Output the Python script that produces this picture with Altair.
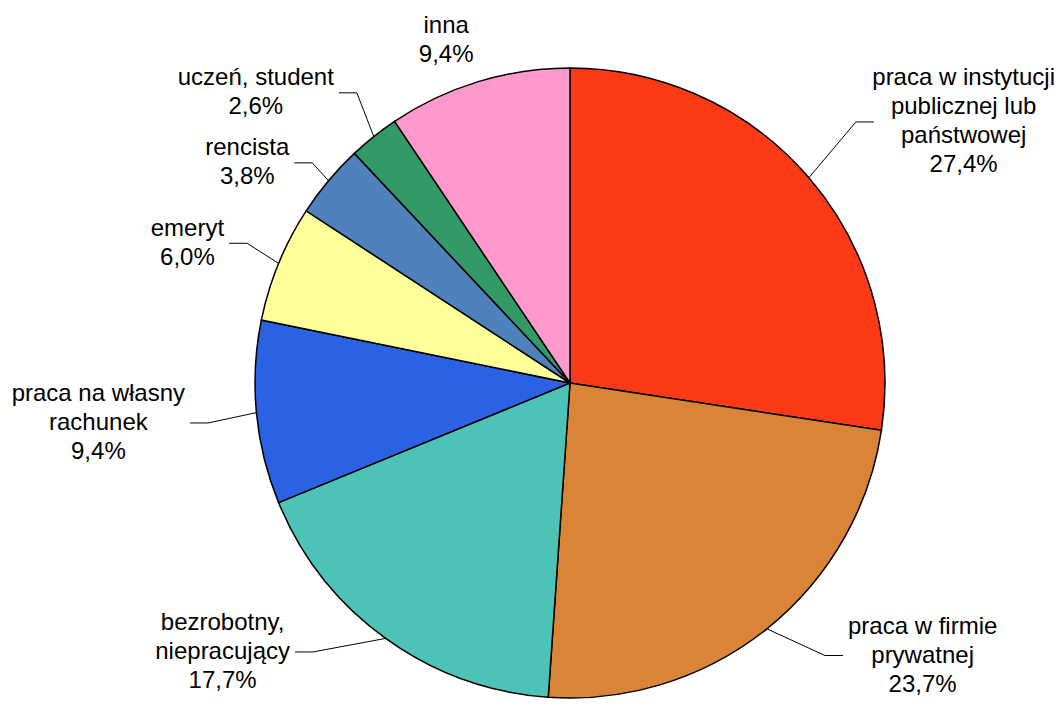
import math
import altair as alt
import pandas as pd

# ---------------- data ----------------
categories = [
    "praca w instytucji\npublicznej lub\npaństwowej",
    "praca w firmie\nprywatnej",
    "bezrobotny,\nniepracujący",
    "praca na własny\nrachunek",
    "emeryt",
    "rencista",
    "uczeń, student",
    "inna",
]
shares = [27.4, 23.7, 17.7, 9.4, 6.0, 3.8, 2.6, 9.4]
colors = ["#FC3A15", "#D98436", "#4CC3B6", "#2A62E3", "#FFFF99", "#4F81BD", "#339966", "#FF99CC"]

# ---------------- layout ----------------
W, H = 1048, 692
CX, CY, R = 562, 375, 315
label_angle = [47.6, 138.1, 223.7, 263.7, 293.4, 310.5, 323.7, 340.1]   # degrees, clockwise from 12 o'clock
label_radius = [1.229, 1.212, 1.181, 1.156, 1.117, 1.076, 1.143, 1.155]  # relative to R
has_leader = [True, True, True, True, True, True, True, False]
FONT = "Liberation Sans"
FONT_SIZE = 24
LINE_H = 29
TICK = 18
GAP = 5

# Arial / Liberation Sans advance widths (per 1000 em)
AW = {
    "a": 556, "b": 556, "c": 500, "d": 556, "e": 556, "f": 278, "h": 556, "i": 222,
    "j": 222, "k": 500, "l": 222, "m": 833, "n": 556, "o": 556, "p": 556, "r": 333,
    "s": 500, "t": 278, "u": 556, "w": 722, "y": 500, "z": 500, "ł": 222, "ń": 556,
    "ą": 556, " ": 278, ",": 278, "%": 889,
}


def text_width(s):
    return sum(AW.get(ch, 556) for ch in s) * FONT_SIZE / 1000.0


def polar(angle_deg, radius):
    a = math.radians(angle_deg)
    return CX + radius * math.sin(a), CY - radius * math.cos(a)


def fmt_pct(v):
    return f"{v:.1f}".replace(".", ",") + "%"


pie_df = pd.DataFrame({"cat": categories, "share": shares, "idx": list(range(len(categories)))})

total = sum(shares)
segs = []
texts = []
cum = 0.0
half_line = LINE_H / 2.0 + 1
for i, (cat, v) in enumerate(zip(categories, shares)):
    mid = (cum + v / 2) / total * 360.0
    cum += v
    label = cat + "\n" + fmt_pct(v)
    lines = label.split("\n")
    n = len(lines)
    block_w = max(text_width(line) for line in lines)
    ex, ey = polar(label_angle[i], label_radius[i] * R)
    # keep the whole text block inside the drawing area (vertical)
    block_h = (n - 1) * LINE_H
    ey = min(max(ey, half_line + block_h / 2), H - half_line - block_h / 2)
    # Vega anchors the first line at y; shift so the block is centred on ey
    ty = ey - block_h / 2.0
    if has_leader[i]:
        sx, sy = polar(mid, R)
        side = 1 if ex > CX else -1
        tx = ex + side * TICK
        segs.append({"x": sx, "y": sy, "x2": ex, "y2": ey})
        segs.append({"x": ex, "y": ey, "x2": tx, "y2": ey})
        x_text = tx + side * (GAP + block_w / 2)
    else:
        x_text = ex
    # keep the whole text block inside the drawing area (horizontal)
    x_text = min(max(x_text, block_w / 2 + 1), W - block_w / 2 - 1)
    texts.append({"x": x_text, "y": ty, "label": label})

seg_df = pd.DataFrame(segs)
txt_df = pd.DataFrame(texts)

xs = alt.Scale(domain=[0, W], range=[0, W], nice=False, zero=False)
ys = alt.Scale(domain=[0, H], range=[0, H], nice=False, zero=False)

pie = alt.Chart(pie_df).mark_arc(outerRadius=R, stroke="black", strokeWidth=1.5).encode(
    theta=alt.Theta("share:Q", stack=True),
    color=alt.Color("cat:N", scale=alt.Scale(domain=categories, range=colors), legend=None),
    order=alt.Order("idx:Q"),
    x=alt.value(CX),
    y=alt.value(CY),
)

leaders = alt.Chart(seg_df).mark_rule(color="black", strokeWidth=1).encode(
    x=alt.X("x:Q", scale=xs, axis=None),
    y=alt.Y("y:Q", scale=ys, axis=None),
    x2="x2:Q",
    y2="y2:Q",
)

labels = alt.Chart(txt_df).mark_text(
    font=FONT, fontSize=FONT_SIZE, lineBreak="\n", lineHeight=LINE_H,
    align="center", baseline="middle", color="black",
).encode(
    x=alt.X("x:Q", scale=xs, axis=None),
    y=alt.Y("y:Q", scale=ys, axis=None),
    text="label:N",
)

chart = alt.layer(pie, leaders, labels).properties(
    width=W, height=H, autosize=alt.AutoSizeParams(type="none"), padding=0,
    background="white",
).configure_view(stroke=None)

chart.save("out.html", embed_options={"renderer": "svg", "actions": False})
